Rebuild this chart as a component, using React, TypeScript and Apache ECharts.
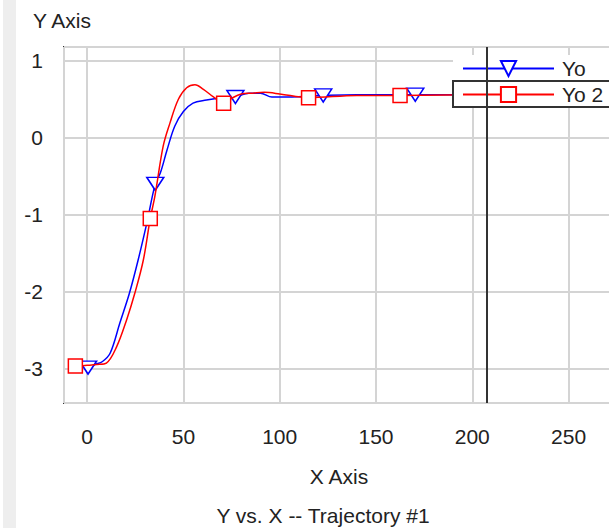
import React, { useEffect, useRef } from "react";
import * as echarts from "echarts";

const yoX = [-3.5, 0.5, 4, 8, 12, 17, 22, 26.5, 31, 35.4, 38, 41.5, 45.5, 50, 55, 62, 67, 72, 77, 84, 90, 96, 105, 115, 122.6, 140, 170.4, 210, 280];
const yoY = [-2.91, -2.99, -2.95, -2.91, -2.8, -2.41, -2.02, -1.59, -1.11, -0.6, -0.46, -0.16, 0.15, 0.34, 0.45, 0.49, 0.51, 0.52, 0.53, 0.58, 0.58, 0.53, 0.53, 0.54, 0.55, 0.56, 0.56, 0.56, 0.56];
const yoMarks = [1, 9, 18, 24, 26];

const yo2X = [-6.1, 0, 5, 10, 15.3, 20.5, 24.8, 29.2, 32.8, 35.2, 39.5, 43, 47.4, 51.7, 56, 60.4, 65.6, 70.9, 74.2, 80, 86, 92, 100, 115, 140, 162.5, 210, 280];
const yo2Y = [-2.97, -2.96, -2.95, -2.93, -2.72, -2.37, -2.02, -1.59, -1.05, -0.76, -0.11, 0.19, 0.5, 0.65, 0.69, 0.63, 0.53, 0.45, 0.5, 0.57, 0.58, 0.59, 0.57, 0.52, 0.55, 0.55, 0.56, 0.56];
const yo2Marks = [0, 8, 17, 23, 25];

const cursorX = 207.6;
const xTicks = [0, 50, 100, 150, 200, 250];
const yTicks = [1, 0, -1, -2, -3];

const FONT = '"Liberation Sans", Arial, sans-serif';
const FS = 21;
const TXT = "#222";
const BLUE = "#0000ff";
const RED = "#ff0000";

function build(xs: number[], ys: number[], marks: number[]) {
  return xs.map((x, i) =>
    marks.includes(i) ? { value: [x, ys[i]] } : { value: [x, ys[i]], symbol: "none" }
  );
}

export default function App() {
  const ref = useRef<HTMLDivElement>(null);
  useEffect(() => {
    if (!ref.current) return;
    const chart = echarts.init(ref.current, null, { renderer: "svg" });
    chart.setOption({
      animation: false,
      backgroundColor: "#fff",
      grid: {
        left: 64,
        top: 47,
        bottom: 125,
        right: -5,
        show: true,
        borderColor: "#333",
        borderWidth: 2,
        containLabel: false,
        outerBoundsMode: "none",
      },
      xAxis: {
        type: "value",
        min: -12,
        max: 273.6,
        splitNumber: 5,
        name: "X Axis",
        nameLocation: "middle",
        nameGap: 63,
        nameTextStyle: { fontSize: FS, color: TXT, fontFamily: FONT },
        axisLine: { show: false },
        axisTick: { show: false },
        axisLabel: {
          margin: 23,
          fontSize: FS,
          color: TXT,
          fontFamily: FONT,
          formatter: (v: number) => (xTicks.includes(v) ? String(v) : ""),
        },
        splitLine: { show: true, lineStyle: { color: "#d4d4d4", width: 2 } },
      },
      yAxis: {
        type: "value",
        min: -3.45,
        max: 1.18,
        splitNumber: 5,
        axisLine: { show: false },
        axisTick: { show: false },
        axisLabel: {
          margin: 21,
          fontSize: FS,
          color: TXT,
          fontFamily: FONT,
          formatter: (v: number) => (yTicks.includes(v) ? String(v) : ""),
        },
        splitLine: { show: true, lineStyle: { color: "#d4d4d4", width: 2 } },
      },
      legend: {
        orient: "vertical",
        left: 453,
        top: 55,
        data: ["Yo", "Yo 2"],
        backgroundColor: "#fff",
        padding: [3, 80, 3, 9],
        itemWidth: 91,
        itemHeight: 19,
        itemGap: 5,
        selectedMode: false,
        textStyle: { fontSize: FS, color: TXT, fontFamily: FONT, padding: [0, 0, 0, 3] },
      },
      series: [
        {
          name: "Yo",
          type: "line",
          data: build(yoX, yoY, yoMarks),
          smooth: 0.35,
          symbol: "triangle",
          symbolRotate: 180,
          symbolSize: [17, 13],
          z: 2,
          lineStyle: { color: BLUE, width: 1.5 },
          itemStyle: { color: "#fff", borderColor: BLUE, borderWidth: 1.5 },
        },
        {
          name: "Yo 2",
          type: "line",
          data: build(yo2X, yo2Y, yo2Marks),
          smooth: 0.35,
          symbol: "rect",
          symbolSize: 14,
          z: 3,
          lineStyle: { color: RED, width: 1.5 },
          itemStyle: { color: "#fff", borderColor: RED, borderWidth: 1.5 },
        },
        {
          name: "cursor",
          type: "line",
          data: [],
          z: 10,
          markLine: {
            silent: true,
            symbol: "none",
            label: { show: false },
            lineStyle: { color: "#333", width: 2, type: "solid" },
            data: [{ xAxis: cursorX }],
          },
        },
      ],
      graphic: [
        {
          type: "rect",
          shape: { x: 3, y: 0, width: 13, height: 528 },
          style: { fill: "#eeeeee" },
          z: 0,
        },
        {
          type: "rect",
          shape: { x: 453, y: 81, width: 200, height: 26 },
          style: { fill: "none", stroke: "#333", lineWidth: 2 },
          z: 100,
        },
        {
          type: "text",
          x: 62,
          y: 20,
          style: {
            text: "Y Axis",
            fontSize: FS,
            fill: TXT,
            fontFamily: FONT,
            textAlign: "center",
            textVerticalAlign: "middle",
          },
        },
        {
          type: "text",
          x: 323,
          y: 515,
          style: {
            text: "Y vs. X -- Trajectory #1",
            fontSize: FS,
            fill: TXT,
            fontFamily: FONT,
            textAlign: "center",
            textVerticalAlign: "middle",
          },
        },
      ],
    });
    return () => chart.dispose();
  }, []);
  return (
    <div
      ref={ref}
      style={{ position: "fixed", left: 0, top: 0, width: 609, height: 528 }}
    />
  );
}
